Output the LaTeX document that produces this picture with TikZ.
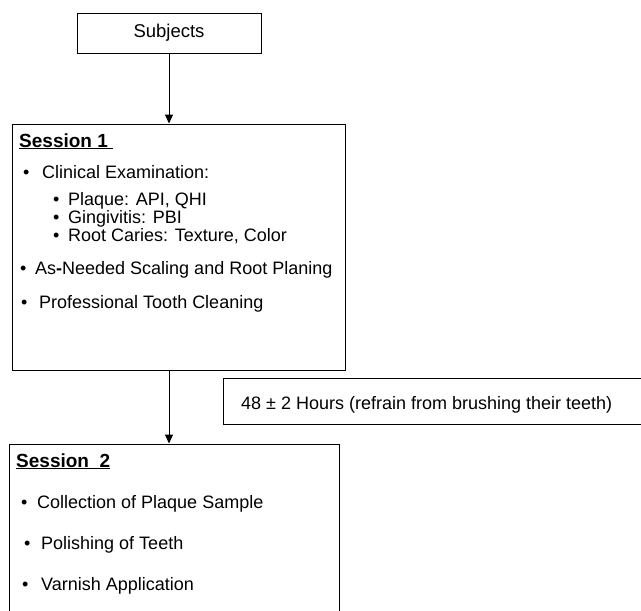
\documentclass[tikz,border=0pt]{standalone}
\usepackage{fontspec}
\setmainfont{Liberation Sans}
\usetikzlibrary{arrows.meta}

\tikzset{caja/.style={draw, line width=1pt, inner sep=0pt},
         etq/.style={font=\fontsize{18}{21}\selectfont, anchor=base west, inner sep=0pt},
         tit/.style={font=\fontsize{19}{22}\selectfont\bfseries, anchor=base west, inner sep=0pt},
         flecha/.style={line width=1pt, -{Triangle[width=8pt, length=9pt]}}}

\begin{document}
\begin{tikzpicture}[x=1pt, y=-1pt]
  \useasboundingbox (0,0) rectangle (641,611);
  \clip (0,0) rectangle (641,611);
  \node[caja, minimum width=184pt, minimum height=40pt] (subj) at (169,33) {\fontsize{18.5}{21}\selectfont Subjects};
  \node[caja, minimum width=333pt, minimum height=246pt] (ses1) at (178.5,247) {};
  \node[caja, minimum width=440pt, minimum height=46pt] (horas) at (443,401) {};
  \node[caja, minimum width=330pt, minimum height=200pt] (ses2) at (174,544) {};
  \draw[flecha] (subj) -- (subj |- ses1.north);
  \draw[flecha] (subj |- ses1.south) -- (subj |- ses2.north);

  % sesion 1
  \node[tit] (t1) at (19,147) {\underline{Session 1\ }};
  \node[etq] (b1) at (23,178) {\textbullet}; \node[etq] (c1) at (42,178) {Clinical Examination:};
  \node[etq] (b2) at (53,205) {\textbullet}; \node[etq] (c2) at (68,205) {Plaque: API, QHI};
  \node[etq] (b3) at (53,223) {\textbullet}; \node[etq] (c3) at (68,223) {Gingivitis: PBI};
  \node[etq] (b4) at (53,241) {\textbullet}; \node[etq] (c4) at (68,241) {Root Caries: Texture, Color};
  \node[etq] (b5) at (20,274) {\textbullet}; \node[etq] (c5) at (35,274) {As\textbf{-}Needed Scaling and Root Planing};
  \node[etq] (b6) at (21,308) {\textbullet}; \node[etq] (c6) at (39,308) {Professional Tooth Cleaning};

  % intervalo
  \node[etq] (h1) at (241,409) {48 ± 2 Hours (refrain from brushing their teeth)};

  % sesion 2
  \node[tit] (t2) at (16,467) {\underline{Session\ \ 2}};
  \node[etq] (d1) at (21,508) {\textbullet}; \node[etq] (e1) at (37,508) {Collection of Plaque Sample};
  \node[etq] (d2) at (24,549) {\textbullet}; \node[etq] (e2) at (41,549) {Polishing of Teeth};
  \node[etq] (d3) at (22,590) {\textbullet}; \node[etq] (e3) at (41,590) {Varnish Application};
\end{tikzpicture}
\end{document}
